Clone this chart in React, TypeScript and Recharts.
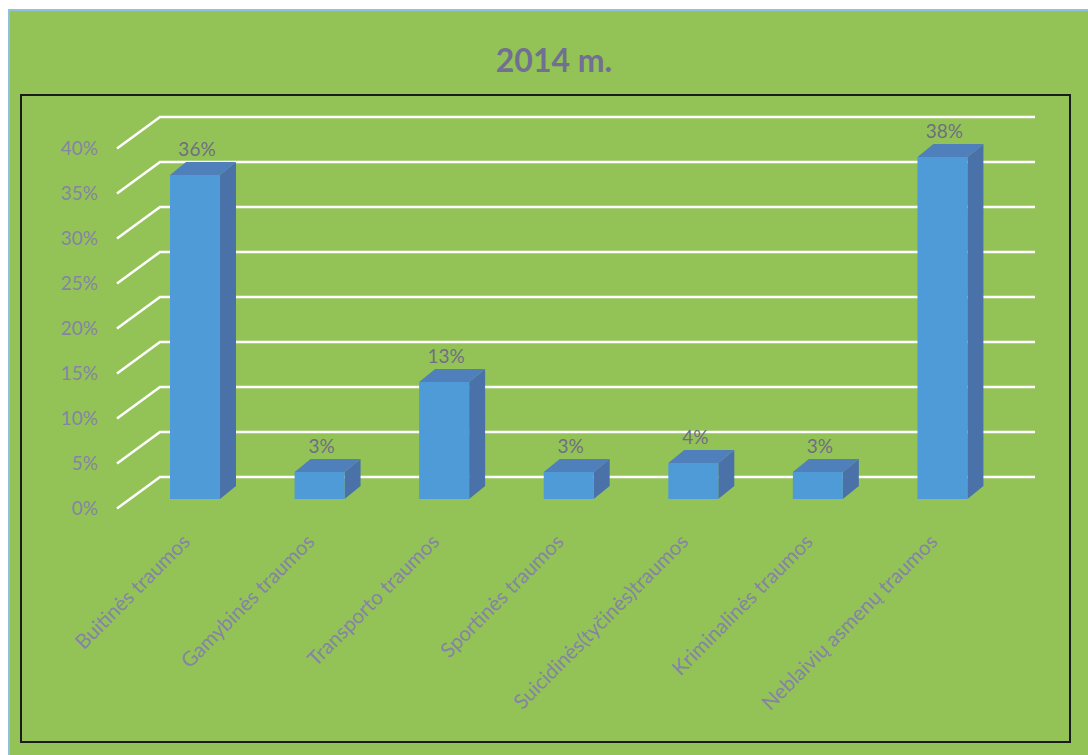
import React from "react";
import {
  BarChart,
  Bar,
  XAxis,
  YAxis,
  CartesianGrid,
  LabelList,
} from "recharts";

const categories = [
  "Buitinės traumos",
  "Gamybinės traumos",
  "Transporto traumos",
  "Sportinės traumos",
  "Suicidinės(tyčinės)traumos",
  "Kriminalinės traumos",
  "Neblaivių asmenų traumos",
];
const shares = [36, 3, 13, 3, 4, 3, 38];
const yTicks = [0, 5, 10, 15, 20, 25, 30, 35, 40];

const data = categories.map((name, i) => ({ name, value: shares[i] }));

const FONT = "Lato, 'Open Sans', sans-serif";
const TEXT = "#8584a4";
const DX = 16;
const DY = 13;

// 3d column: front, top and right side
function Column(props: any) {
  const { x, y, width, height } = props;
  if (height <= 0) return null;
  const top = `M${x},${y} L${x + DX},${y - DY} L${x + width + DX},${y - DY} L${x + width},${y} Z`;
  const side = `M${x + width},${y} L${x + width + DX},${y - DY} L${x + width + DX},${y + height - DY} L${x + width},${y + height} Z`;
  return (
    <g>
      <path d={side} fill="#4a72a8" />
      <path d={top} fill="#4f80bb" />
      <rect x={x} y={y} width={width} height={height} fill="#4e9bd7" />
    </g>
  );
}

// floor/back-wall gridline: short diagonal then along the back wall
function GridLine(props: any) {
  const { y1 } = props;
  return (
    <path
      d={`M117,${y1 + 9.5} L160,${y1 - 22} L1035,${y1 - 22}`}
      stroke="#ffffff"
      strokeWidth={2.5}
      fill="none"
    />
  );
}

function YTick(props: any) {
  const { y, payload } = props;
  return (
    <text
      x={98}
      y={y + 11}
      textAnchor="end"
      dominantBaseline="middle"
      fill={TEXT}
      fontSize={19}
      fontFamily={FONT}
    >
      {payload.value}%
    </text>
  );
}

function XTick(props: any) {
  const { x, y, payload } = props;
  return (
    <text
      x={0}
      y={0}
      transform={`translate(${x - 4},${y + 36}) rotate(-45)`}
      textAnchor="end"
      fill={TEXT}
      fontSize={20.5}
      fontFamily={FONT}
    >
      {payload.value}
    </text>
  );
}

function ValueLabel(props: any) {
  const { x, y, width, value } = props;
  return (
    <text
      x={x + width / 2 + 2}
      y={y - 24}
      textAnchor="middle"
      dominantBaseline="middle"
      fill="#6f6e82"
      fontSize={19}
      fontFamily={FONT}
    >
      {value}%
    </text>
  );
}

export default function App() {
  return (
    <div
      style={{
        position: "absolute",
        left: 0,
        top: 0,
        width: 1088,
        height: 755,
        background: "#ffffff",
        overflow: "hidden",
      }}
    >
      <div
        style={{
          position: "absolute",
          left: 8,
          top: 9,
          width: 1090,
          height: 760,
          background: "#93c356",
          border: "2px solid #8fc0dc",
        }}
      />
      <div
        style={{
          position: "absolute",
          left: 20,
          top: 94,
          width: 1047,
          height: 645,
          border: "2px solid #1b1b1b",
        }}
      />
      <div
        style={{
          position: "absolute",
          left: 0,
          top: 40,
          width: 1108,
          textAlign: "center",
          fontFamily: FONT,
          fontWeight: 700,
          fontSize: 32,
          color: "#716f92",
        }}
      >
        2014 m.
      </div>
      <div style={{ position: "absolute", left: 0, top: 0 }}>
        <BarChart
          width={1088}
          height={755}
          data={data}
          margin={{ top: 139, right: 83, bottom: 56, left: 0 }}
          barSize={50}
        >
          <CartesianGrid vertical={false} horizontal={GridLine} />
          <YAxis
            domain={[0, 40]}
            ticks={yTicks}
            width={133}
            axisLine={false}
            tickLine={false}
            tick={YTick}
          />
          <XAxis
            dataKey="name"
            height={200}
            axisLine={false}
            tickLine={false}
            interval={0}
            tick={XTick}
          />
          <Bar dataKey="value" shape={Column} isAnimationActive={false}>
            <LabelList dataKey="value" content={ValueLabel} />
          </Bar>
        </BarChart>
      </div>
    </div>
  );
}
